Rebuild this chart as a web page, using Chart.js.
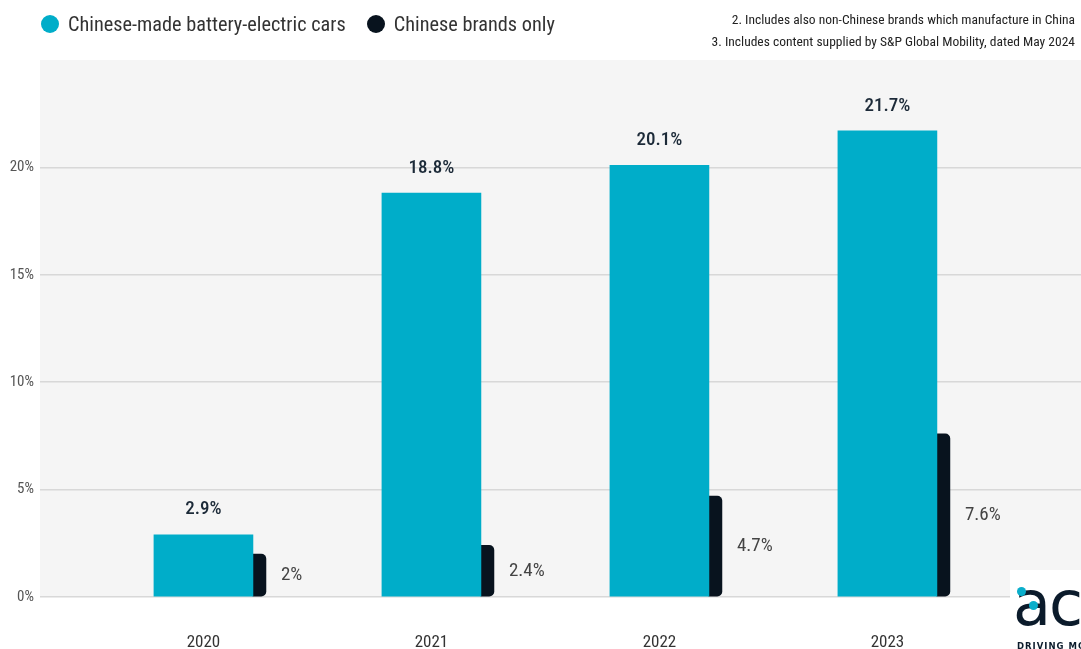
<!DOCTYPE html>
<html>
<head>
<meta charset="utf-8">
<script src="https://cdn.jsdelivr.net/npm/chart.js@4.4.1/dist/chart.umd.min.js"></script>
<style>
  body { margin:0; background:#fff; }
  #wrap { position:relative; width:1081px; height:649px; overflow:hidden;
          font-family:"Liberation Sans Narrow","Roboto Condensed","DejaVu Sans Condensed",Roboto,sans-serif; }
  #legend { position:absolute; left:41px; top:12px; font-size:20.3px; color:#333; white-space:nowrap; }
  #legend span.dot { display:inline-block; width:18px; height:18px; border-radius:50%; vertical-align:-2px; margin-right:9px; }
  #legend span.item { margin-right:21px; }
  #notes { position:absolute; right:6px; top:8px; font-size:13.5px; color:#222; text-align:right; line-height:22px; }
  #logo { position:absolute; left:1010px; top:570px; width:80px; height:80px; background:#fff; }
  #logo .ac { position:absolute; left:3px; top:-3px; font-family:"DejaVu Sans",sans-serif; font-size:62px; color:#0b1b2b; letter-spacing:-2px; }
  #logo .d { position:absolute; width:9px; height:9px; border-radius:50%; background:#0aaecb; }
  #logo .tag { position:absolute; left:7px; top:71px; font-family:"DejaVu Sans",sans-serif; font-weight:bold; font-size:8.5px; letter-spacing:1px; color:#0b1b2b; white-space:nowrap; }
</style>
</head>
<body>
<div id="wrap">
  <canvas id="myChart" width="1081" height="649"></canvas>
  <div id="legend"></div>
  <div id="notes">2. Includes also non-Chinese brands which manufacture in China<br>3. Includes content supplied by S&amp;P Global Mobility, dated May 2024</div>
  <div id="logo"><div class="ac">ac</div><div class="d" style="left:7px;top:17px"></div><div class="d" style="left:19px;top:31px"></div><div class="tag">DRIVING MOBILITY</div></div>
</div>
<script>
//Chart values
var years = [2020, 2021, 2022, 2023];
var madeInChina = [2.9, 18.8, 20.1, 21.7];
var chineseBrands = [2, 2.4, 4.7, 7.6];
var yTicks = [0, 5, 10, 15, 20];

var seriesNames = ["Chinese-made battery-electric cars", "Chinese brands only"];
var seriesColors = ["#00adc9", "#08131e"];
var FONT = '"Liberation Sans Narrow","Roboto Condensed","DejaVu Sans Condensed",Roboto,sans-serif';

//Build the html legend
var legendHtml = '';
seriesNames.forEach(function(name, i){
  legendHtml += '<span class="item"><span class="dot" style="background:'+seriesColors[i]+'"></span>'+name+'</span>';
});
document.getElementById('legend').innerHTML = legendHtml;

//Gray plot background
var plotBackground = {
  id: 'plotBackground',
  beforeDraw: function(chart){
    var a = chart.chartArea, c = chart.ctx;
    c.save();
    c.fillStyle = '#f5f5f5';
    c.fillRect(a.left, a.top, a.right - a.left, a.bottom - a.top);
    c.restore();
  }
};

//Value labels, above the cyan bars and beside the dark bars
var valueLabels = {
  id: 'valueLabels',
  afterDatasetsDraw: function(chart){
    var c = chart.ctx;
    c.save();
    c.textBaseline = 'middle';
    chart.getDatasetMeta(0).data.forEach(function(bar, i){
      c.font = '500 19px ' + FONT;
      c.fillStyle = '#1c2a38';
      c.textAlign = 'center';
      c.fillText(madeInChina[i] + '%', bar.x, bar.y - 25);
    });
    chart.getDatasetMeta(1).data.forEach(function(bar, i){
      c.font = '19px ' + FONT;
      c.fillStyle = '#444';
      c.textAlign = 'left';
      c.fillText(chineseBrands[i] + '%', bar.x + bar.width / 2 + 15, (bar.y + bar.base) / 2);
    });
    c.restore();
  }
};

var ctx = document.getElementById("myChart").getContext("2d");
var myChart = new Chart(ctx, {
  type: 'bar',
  data: {
    datasets: [
      {
        label: seriesNames[0],
        data: years.map(function(y, i){ return {x: y, y: madeInChina[i]}; }),
        backgroundColor: seriesColors[0],
        barThickness: 99
      },
      {
        label: seriesNames[1],
        data: years.map(function(y, i){ return {x: y, y: chineseBrands[i]}; }),
        backgroundColor: seriesColors[1],
        barThickness: 13,
        borderSkipped: false,
        borderRadius: {topLeft: 0, bottomLeft: 0, topRight: 5, bottomRight: 5}
      }
    ]
  },
  options: {
    responsive: false,
    animation: false,
    layout: {padding: {top: 60, right: 0, left: 0, bottom: 0}},
    plugins: {legend: {display: false}, tooltip: {enabled: false}},
    scales: {
      x: {
        type: 'linear',
        offset: false,
        min: 2019.066,
        max: 2023.632,
        grid: {display: false, drawTicks: false},
        border: {display: false},
        afterBuildTicks: function(scale){
          scale.ticks = years.map(function(y){ return {value: y}; });
        },
        afterFit: function(scale){ scale.height = 52; },
        ticks: {
          autoSkip: false,
          labelOffset: -49.5,
          padding: 36,
          color: '#333',
          font: {family: FONT, size: 17},
          callback: function(v){ return String(v); }
        }
      },
      y: {
        min: 0,
        max: 25,
        afterBuildTicks: function(scale){
          scale.ticks = yTicks.map(function(v){ return {value: v}; });
        },
        afterFit: function(scale){ scale.width = 40; },
        border: {display: false},
        grid: {color: '#d8d8d8', lineWidth: 1.5, drawTicks: false},
        ticks: {
          padding: 6,
          color: '#555',
          font: {family: FONT, size: 15},
          callback: function(v){ return v + '%'; }
        }
      }
    }
  },
  plugins: [plotBackground, valueLabels]
});
</script>
</body>
</html>
